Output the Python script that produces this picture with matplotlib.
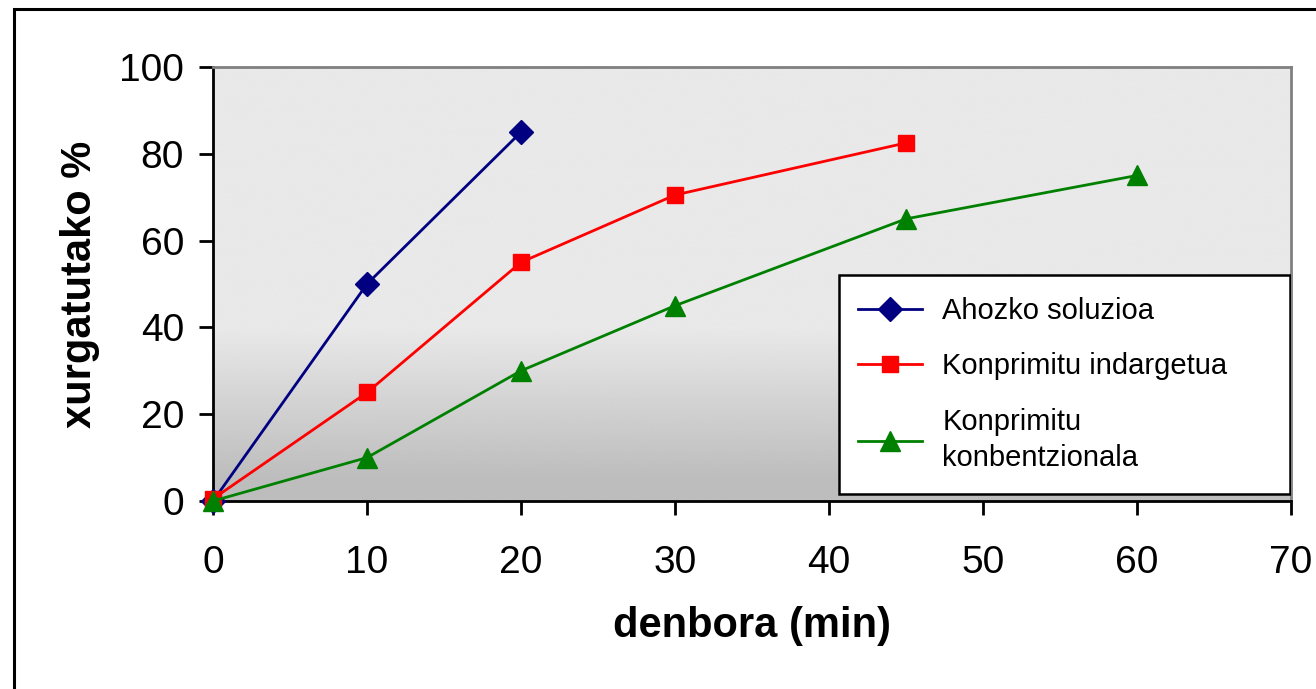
import numpy as np
import matplotlib
matplotlib.use("Agg")
import matplotlib.pyplot as plt
from matplotlib.patches import Rectangle

plt.rcParams['font.family'] = ['Liberation Sans', 'DejaVu Sans']

# Xurgapen datuak (denbora minututan, xurgatutako %)
t_ahozko = [0, 10, 20]
y_ahozko = [0, 50, 85]

t_indargetua = [0, 10, 20, 30, 45]
y_indargetua = [0.5, 25, 55, 70.5, 82.5]

t_konbentzionala = [0, 10, 20, 30, 45, 60]
y_konbentzionala = [0, 10, 30, 45, 65, 75]

labels = ["Ahozko soluzioa", "Konprimitu indargetua", "Konprimitu\nkonbentzionala"]
x_ticks = [0, 10, 20, 30, 40, 50, 60, 70]
y_ticks = [0, 20, 40, 60, 80, 100]

fig = plt.figure(figsize=(13.16, 6.89), dpi=100)
ax = fig.add_axes([0.1619, 0.2729, 0.8191, 0.6299])

# plot area background: flat light grey on top, darker towards the bottom
frac = np.linspace(0, 1, 400)  # 0 = bottom, 1 = top
shade = np.where(frac > 0.4, 0.913,
                 0.74 + (0.913 - 0.74) * np.clip((frac - 0.05) / 0.35, 0, 1))
grad = np.repeat(shade[:, None], 2, axis=1)
ax.imshow(grad, cmap='gray', vmin=0, vmax=1, origin='lower', aspect='auto',
          extent=[0, 70, 0, 100], zorder=0, interpolation='bilinear')

ax.plot(t_ahozko, y_ahozko, color='#000080', lw=2, marker='D', ms=12,
        label=labels[0], clip_on=False, zorder=3)
ax.plot(t_indargetua, y_indargetua, color='#ff0000', lw=2, marker='s', ms=12,
        label=labels[1], clip_on=False, zorder=3)
ax.plot(t_konbentzionala, y_konbentzionala, color='#008000', lw=2, marker='^', ms=14,
        label=labels[2], clip_on=False, zorder=3)

ax.set_xlim(0, 70)
ax.set_ylim(0, 100)
ax.set_xticks(x_ticks)
ax.set_yticks(y_ticks)
ax.tick_params(labelsize=28, width=2, length=10, direction='out', colors='black')
ax.tick_params(axis='x', pad=22)
ax.tick_params(axis='y', pad=11)

for side in ('left', 'bottom'):
    ax.spines[side].set_color('black')
    ax.spines[side].set_linewidth(2)
for side in ('top', 'right'):
    ax.spines[side].set_color('#808080')
    ax.spines[side].set_linewidth(2)

ax.set_xlabel("denbora (min)", fontsize=30, fontweight='bold', labelpad=18)
ax.set_ylabel("xurgatutako %", fontsize=30, fontweight='bold', labelpad=14)

# legend box drawn separately so it can be wider than its entries
ax.add_patch(Rectangle((0.5807, 0.016), 0.418, 0.505, transform=ax.transAxes,
                       facecolor='white', edgecolor='black', linewidth=1.8, zorder=4))
leg = ax.legend(loc='upper left', bbox_to_anchor=(0.5776, 0.521), fontsize=21,
                frameon=False, handlelength=2.2, handletextpad=0.7,
                borderpad=0.75, labelspacing=0.95, borderaxespad=0)
for txt in leg.get_texts():
    txt.set_linespacing(1.35)
leg.set_zorder(5)

# figure border
fig.patches.append(Rectangle((0.0106, -0.05), 1.2, 1.037, transform=fig.transFigure,
                             fill=False, edgecolor='black', linewidth=2.2))

fig.savefig("out.png", dpi=100)
